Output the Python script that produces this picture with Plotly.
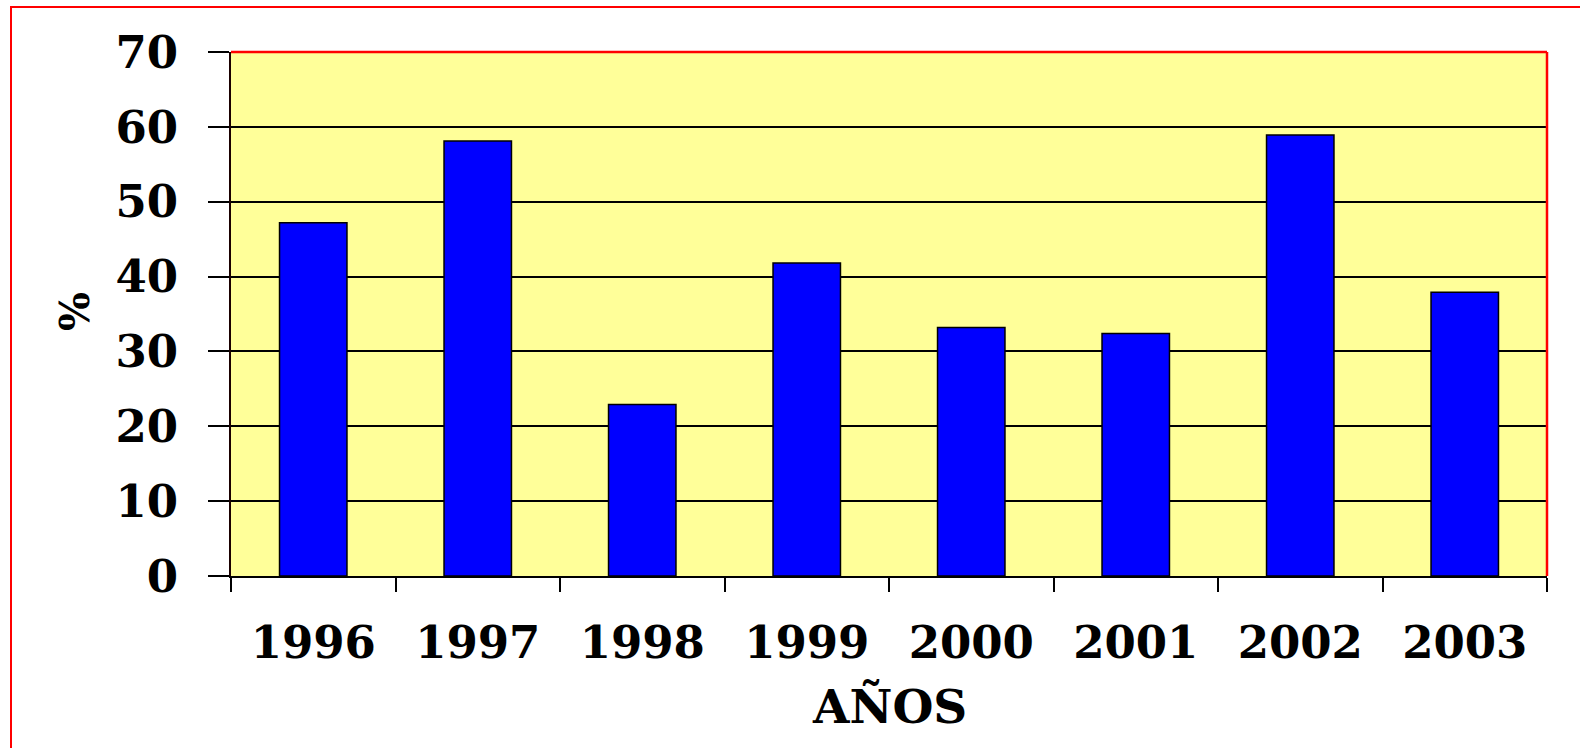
import plotly.graph_objects as go

years = ["1996", "1997", "1998", "1999", "2000", "2001", "2002", "2003"]
values = [47.2, 58.1, 22.9, 41.8, 33.2, 32.4, 58.9, 37.9]
y_ticks = [0, 10, 20, 30, 40, 50, 60, 70]

FONT = "DejaVu Serif"

fig = go.Figure()
fig.add_trace(go.Bar(
    x=years, y=values,
    marker=dict(color="#0000FF", line=dict(color="black", width=1.5)),
    hoverinfo="x+y",
))

W, H = 1580, 748
L, R, T, B = 231, 33, 52, 172

def px_x(px):
    return (px - L) / (W - L - R)

def px_y(py):
    return (H - B - py) / (H - T - B)

fig.update_layout(
    width=W, height=H,
    margin=dict(l=L, r=R, t=T, b=B, pad=0),
    paper_bgcolor="white",
    plot_bgcolor="#FFFF99",
    bargap=0.59,
    showlegend=False,
    xaxis=dict(
        type="category",
        range=[-0.5, 7.5],
        tickson="boundaries",
        ticks="outside", ticklen=14, tickwidth=2, tickcolor="black",
        showgrid=False,
        showline=True, linecolor="black", linewidth=2,
        tickfont=dict(family=FONT, size=45, color="black", weight="bold"),
        ticklabelstandoff=26,
    ),
    yaxis=dict(
        range=[0, 70],
        tickvals=y_ticks,
        ticktext=[str(v) for v in y_ticks],
        ticks="outside", ticklen=21, tickwidth=2, tickcolor="black",
        showgrid=True, gridcolor="black", gridwidth=1.5,
        showline=True, linecolor="#1a0000", linewidth=2,
        zeroline=False,
        tickfont=dict(family=FONT, size=45, color="black", weight="bold"),
        ticklabelstandoff=21,
    ),
    annotations=[
        dict(text="AÑOS", xref="paper", yref="paper", x=0.5, y=px_y(706),
             xanchor="center", yanchor="middle", showarrow=False,
             font=dict(family=FONT, size=47, color="black", weight="bold")),
        dict(text="%", xref="paper", yref="paper", x=px_x(75), y=px_y(312),
             xanchor="center", yanchor="middle", showarrow=False, textangle=-90,
             font=dict(family=FONT, size=41, color="black", weight="bold")),
    ],
    shapes=[
        dict(type="line", xref="paper", yref="paper", x0=0, x1=1, y0=1, y1=1,
             line=dict(color="red", width=2.5)),
        dict(type="line", xref="paper", yref="paper", x0=1, x1=1, y0=0, y1=1,
             line=dict(color="red", width=2.5)),
        dict(type="rect", xref="paper", yref="paper",
             x0=px_x(11), x1=px_x(1586), y0=px_y(7), y1=px_y(756),
             line=dict(color="red", width=2)),
    ],
)

fig.write_html("out.html", config={"displayModeBar": False},
               post_script="document.body.style.margin='0';")
